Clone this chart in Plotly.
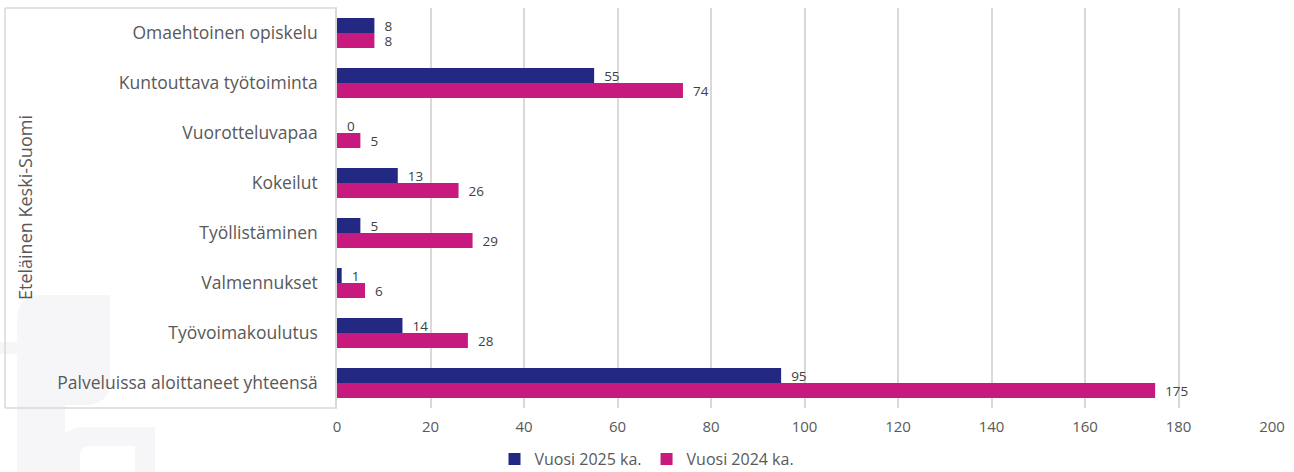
import plotly.graph_objects as go

categories = ["Omaehtoinen opiskelu", "Kuntouttava työtoiminta", "Vuorotteluvapaa", "Kokeilut",
              "Työllistäminen", "Valmennukset", "Työvoimakoulutus", "Palveluissa aloittaneet yhteensä"]
vals_2025 = [8, 55, 0, 13, 5, 1, 14, 95]
vals_2024 = [8, 74, 5, 26, 29, 6, 28, 175]
series_names = ["Vuosi 2025 ka.", "Vuosi 2024 ka."]
x_ticks = [0, 20, 40, 60, 80, 100, 120, 140, 160, 180, 200]
group_label = "Eteläinen Keski-Suomi"

BLUE = "#232883"
PINK = "#C8197F"
FONT = "Open Sans"
TXT = "#595959"

W, H = 1294, 472
L, R, T, B = 337, 22, 8, 64
PW, PH = W - L - R, H - T - B

def px(x):
    return (x - L) / PW

def py(y):
    return (H - B - y) / PH

fig = go.Figure()
for name, vals, col in [(series_names[0], vals_2025, BLUE), (series_names[1], vals_2024, PINK)]:
    fig.add_trace(go.Bar(
        y=categories, x=vals, name=name, orientation="h",
        marker=dict(color=col, line=dict(width=0)),
        text=[f"  {v}" for v in vals], textposition="outside", constraintext="none",
        textfont=dict(family=FONT, size=13.5, color="#404040"),
        cliponaxis=False,
    ))

shapes = []
wm = "#f6f6f9"
# faint watermark shapes
shapes.append(dict(type="path", xref="paper", yref="paper", layer="below",
                   path=f"M {px(17)},{py(472)} L {px(17)},{py(320)} Q {px(17)},{py(295)} {px(42)},{py(295)} "
                        f"L {px(110)},{py(295)} L {px(110)},{py(380)} Q {px(110)},{py(405)} {px(85)},{py(405)} "
                        f"L {px(65)},{py(405)} L {px(65)},{py(472)} Z",
                   fillcolor=wm, line=dict(width=0)))
shapes.append(dict(type="rect", xref="paper", yref="paper", layer="below",
                   x0=px(0), x1=px(65), y0=py(354), y1=py(342), fillcolor=wm, line=dict(width=0)))
shapes.append(dict(type="path", xref="paper", yref="paper", layer="below",
                   path=f"M {px(60)},{py(472)} L {px(60)},{py(450)} Q {px(60)},{py(427)} {px(85)},{py(427)} "
                        f"L {px(155)},{py(427)} L {px(155)},{py(472)} L {px(135)},{py(472)} L {px(135)},{py(446)} "
                        f"L {px(90)},{py(446)} Q {px(80)},{py(446)} {px(80)},{py(456)} L {px(80)},{py(472)} Z",
                   fillcolor=wm, line=dict(width=0)))
# category group bracket
gc = "#d9d9d9"
for (x0, y0, x1, y1) in [(5, 8, L, 8), (5, H - B, L, H - B), (5, 8, 5, H - B)]:
    shapes.append(dict(type="line", xref="paper", yref="paper", x0=px(x0), y0=py(y0), x1=px(x1), y1=py(y1),
                       line=dict(color=gc, width=1.5)))

fig.update_layout(
    width=W, height=H,
    margin=dict(l=L, r=R, t=T, b=B, autoexpand=False),
    paper_bgcolor="white", plot_bgcolor="rgba(0,0,0,0)",
    barmode="group", bargap=0.4, bargroupgap=0.0,
    font=dict(family=FONT, color=TXT),
    xaxis=dict(range=[0, 200], tickvals=x_ticks, showgrid=True, gridcolor=gc, gridwidth=1.5,
               zeroline=False, showline=False, tickfont=dict(size=15, color=TXT), ticks="",
               ticklabelstandoff=8, automargin=False),
    yaxis=dict(autorange="reversed", showline=True, linecolor=gc, linewidth=1.5, ticks="",
               tickfont=dict(size=17.5, color=TXT), ticklabelstandoff=14, showgrid=False,
               automargin=False),
    legend=dict(orientation="h", x=0.5, xanchor="center", xref="container", y=py(459), yanchor="middle",
                yref="paper", font=dict(size=16, color=TXT), traceorder="normal",
                itemwidth=30),
    shapes=shapes,
    annotations=[dict(text=group_label, xref="paper", yref="paper", x=px(25), y=py(208),
                      textangle=-90, showarrow=False, font=dict(size=18, color=TXT),
                      xanchor="center", yanchor="middle")],
)

fig.write_html("out.html", config={"displayModeBar": False},
               post_script="document.body.style.margin='0';")
